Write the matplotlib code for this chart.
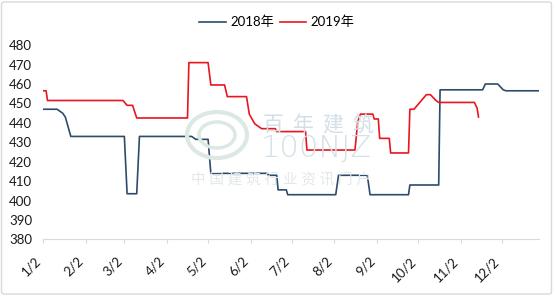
import numpy as np
import pandas as pd
import matplotlib
matplotlib.use("Agg")
import matplotlib.pyplot as plt
import matplotlib.dates as mdates
from matplotlib.patches import FancyBboxPatch, Ellipse

plt.rcParams['font.family'] = ['Lato', 'Noto Sans CJK SC', 'DejaVu Sans']

# values (month-day on a common axis)
dates_2018 = ["01-02", "01-12", "01-16", "01-18", "01-22", "03-02", "03-04", "03-11",
              "03-13", "04-20", "04-23", "05-02", "05-04", "06-14", "06-15", "06-21",
              "06-22", "06-28", "06-29", "08-03", "08-05", "08-26", "08-28", "09-25",
              "09-26", "10-17", "10-18", "11-18", "11-20", "11-29", "12-03", "12-05",
              "12-29"]
price_2018 = [447, 447, 445, 443, 433, 433, 403.5, 403.5,
              433, 433, 431.5, 431.5, 414, 414, 413, 413,
              405.5, 405.5, 403, 403, 413, 413, 403, 403,
              408, 408, 457, 457, 460, 460, 457, 456.5,
              456.5]

dates_2019 = ["01-02", "01-04", "01-05", "03-01", "03-04", "03-08", "03-11", "04-17",
              "04-18", "05-02", "05-04", "05-14", "05-16", "05-30", "06-01", "06-03",
              "06-05", "06-10", "06-20", "06-21", "07-12", "07-13", "08-17", "08-19",
              "08-21", "08-30", "08-31", "09-03", "09-04", "09-11", "09-12", "09-25",
              "09-26", "09-29", "10-08", "10-11", "10-15", "10-17", "11-12", "11-14",
              "11-15"]
price_2019 = [456.5, 456.5, 451.5, 451.5, 449, 449, 442.5, 442.5,
              471, 471, 459.5, 459.5, 453.5, 453.5, 444.5, 442,
              439.5, 437, 437, 435.5, 435.5, 426, 426, 440.5,
              444.5, 444.5, 442, 442, 432, 432, 424.5, 424.5,
              447, 447, 454.5, 454.5, 451.5, 450.5, 450.5, 447.5,
              443]

series_labels = ["2018年", "2019年"]
tick_months = ["1/2", "2/2", "3/2", "4/2", "5/2", "6/2", "7/2", "8/2", "9/2", "10/2", "11/2", "12/2"]
y_ticks = [380, 390, 400, 410, 420, 430, 440, 450, 460, 470, 480]


def to_dt(md):
    return pd.to_datetime(["2018-" + s for s in md])


fig = plt.figure(figsize=(5.56, 2.97), dpi=100)
ax = fig.add_axes([0.078, 0.194, 0.892, 0.654])

# faint watermark
wm = '#dce9e3'
fig.patches.append(Ellipse((217 / 556, 1 - 135 / 297), 60 / 556, 46 / 297, transform=fig.transFigure,
                           fill=False, ec=wm, lw=3, zorder=0))
fig.patches.append(Ellipse((217 / 556, 1 - 135 / 297), 36 / 556, 26 / 297, transform=fig.transFigure,
                           fill=False, ec=wm, lw=2.5, zorder=0))
for i, ch in enumerate("百年建筑"):
    fig.text((273 + 30 * i) / 556, 1 - 125 / 297, ch, color='#d2dfe6', fontsize=15, ha='center',
             va='center', zorder=0)
fig.text(316 / 556, 1 - 148 / 297, "100NJZ", color='#d5e0e6', fontsize=22, ha='center', va='center',
         family=['DejaVu Sans'], fontweight='light', zorder=0)
fig.text(281 / 556, 1 - 180 / 297, "中 国 建 筑 行 业 资 讯 门 户", color='#e2e8ea', fontsize=10.5,
         ha='center', va='center', zorder=0)

ax.patch.set_alpha(0)
l1, = ax.plot(to_dt(dates_2018), price_2018, color='#2E4B6A', lw=1.2, label=series_labels[0])
l2, = ax.plot(to_dt(dates_2019), price_2019, color='#E8161F', lw=1.2, label=series_labels[1])

ax.set_ylim(380, 480)
ax.set_yticks(y_ticks)
start = pd.Timestamp("2018-01-02")
ax.set_xlim(start, start + pd.Timedelta(days=361.3))
ticks = pd.date_range("2018-01-02", periods=12, freq=pd.DateOffset(months=1))
ax.set_xticks(ticks)
ax.set_xticklabels(tick_months, rotation=45, ha='right', va='top')

for s in ['top', 'right', 'left']:
    ax.spines[s].set_visible(False)
ax.spines['bottom'].set_color('#d9d9d9')
ax.tick_params(axis='y', length=0, pad=8, labelsize=9.5, labelcolor='#1a1a1a')
ax.tick_params(axis='x', length=3, color='#d9d9d9', pad=8, labelsize=9.5, labelcolor='#1a1a1a')

fig.legend(handles=[l1, l2], loc='center', bbox_to_anchor=(277 / 556, 1 - 22 / 297), ncol=2,
           frameon=False, fontsize=9.5, handlelength=2.0, handletextpad=0.35, columnspacing=0.4)

# chart border
fig.patches.append(FancyBboxPatch((1.5 / 556, 3 / 297), 550 / 556, 292 / 297, transform=fig.transFigure,
                                  boxstyle="round,pad=0,rounding_size=0.006", fill=False,
                                  ec='#d9d9d9', lw=1))

fig.savefig("out.png", dpi=100)
